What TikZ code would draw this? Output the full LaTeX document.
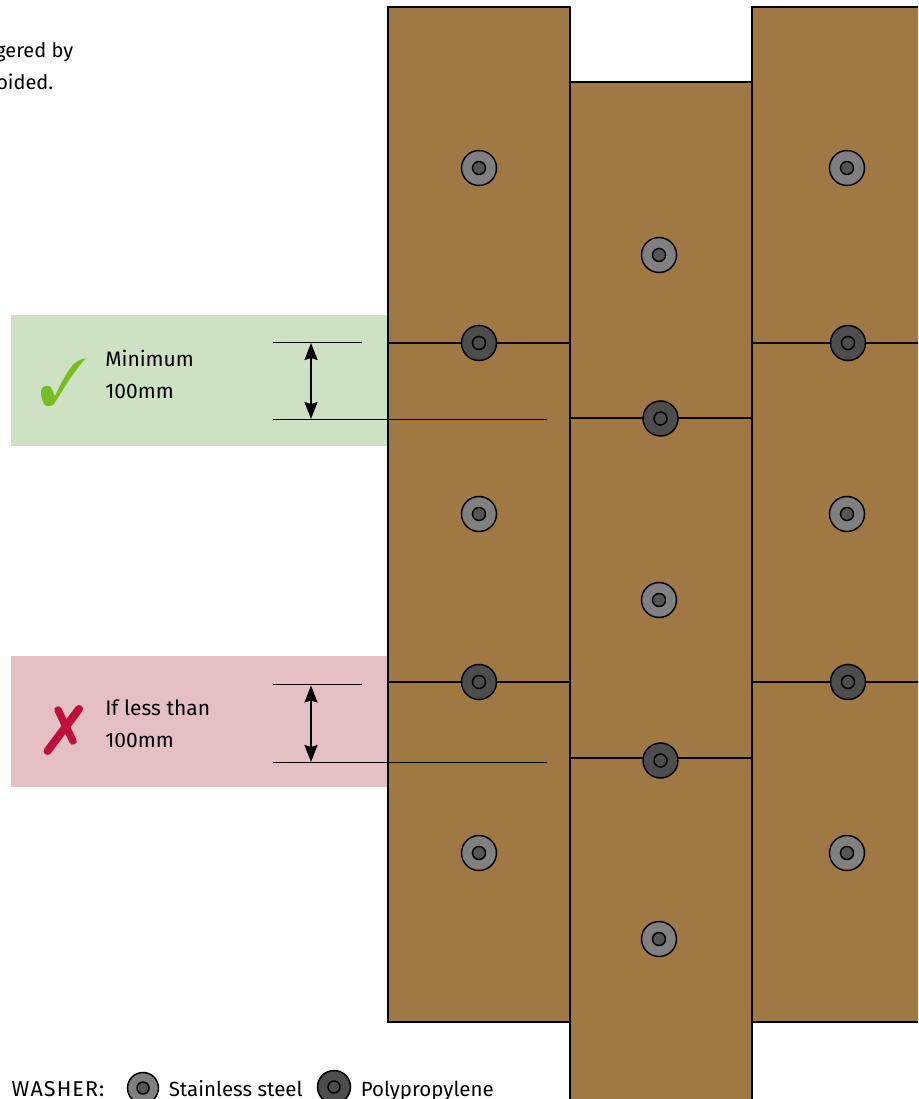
\documentclass[tikz,border=0pt]{standalone}
\usepackage{fontspec}
\setmainfont{Fira Sans}
\usetikzlibrary{arrows.meta}
\definecolor{plankbrown}{HTML}{A07843}
\definecolor{okband}{HTML}{CCE2C3}
\definecolor{badband}{HTML}{E4C0C4}
\definecolor{okmark}{HTML}{78BE20}
\definecolor{badmark}{HTML}{C00D3A}
\definecolor{steelgrey}{HTML}{808080}
\definecolor{pingrey}{HTML}{555555}
\definecolor{polygrey}{HTML}{4D4D4D}

\begin{document}
\begin{tikzpicture}[x=1pt, y=-1pt, line width=1.5pt,
        plank/.style={draw, fill=plankbrown, anchor=north west, inner sep=0pt, outer sep=0pt},
        band/.style={anchor=north west, inner sep=0pt, outer sep=0pt, minimum width=377pt, minimum height=131pt},
        washer/.style={draw, circle, inner sep=0pt, outer sep=0pt, minimum size=35pt},
        steel/.style={washer, fill=steelgrey},
        poly/.style={washer, fill=polygrey},
        steelpin/.style={washer, fill=pingrey, minimum size=13pt},
        polypin/.style={washer, fill=polygrey, minimum size=13pt},
        lap/.style={line width=1.7pt},
        dimline/.style={line width=1.1pt},
        gap/.style={{Stealth[length=17pt,width=13pt,inset=2pt]}-{Stealth[length=17pt,width=13pt,inset=2pt]}, line width=2pt},
        txt/.style={inner sep=0pt, anchor=west, align=left, font=\fontsize{21}{32}\selectfont},
        legend/.style={inner sep=0pt, anchor=base west, font=\fontsize{20.5}{24}\selectfont},
        cuttxt/.style={inner sep=0pt, anchor=base east, font=\fontsize{20}{24}\selectfont}]
        \clip (0,0) rectangle (918,1099);

        % green and red bands
        \node[band, fill=okband] (okbox) at (11,315) {};
        \node[band, fill=badband] (badbox) at (11,656) {};

        % planks
        \node[plank, minimum width=182pt, minimum height=1015pt] (left) at (388,7) {};
        \node[plank, minimum width=182pt, minimum height=1040pt] (mid) at (570,82) {};
        \node[plank, minimum width=182pt, minimum height=1015pt] (right) at (752,7) {};

        % laps
        \coordinate (la) at (388,343);
        \coordinate (lb) at (570,343);
        \coordinate (lc) at (388,682);
        \coordinate (ld) at (570,682);
        \coordinate (ma) at (570,418);
        \coordinate (mb) at (752,418);
        \coordinate (mc) at (570,758);
        \coordinate (md) at (752,758);
        \coordinate (ra) at (752,343);
        \coordinate (rb) at (930,343);
        \coordinate (rc) at (752,682);
        \coordinate (rd) at (930,682);
        \path[lap] (la) edge (lb)
              (lc) edge (ld)
              (ma) edge (mb)
              (mc) edge (md)
              (ra) edge (rb)
              (rc) edge (rd);

        % dimension lines
        \coordinate (oka) at (273,342.3);
        \coordinate (okb) at (361.5,342.3);
        \coordinate (okc) at (273,419.3);
        \coordinate (okd) at (547,419.3);
        \coordinate (bada) at (273,684.8);
        \coordinate (badb) at (361.5,684.8);
        \coordinate (badc) at (273,762.4);
        \coordinate (badd) at (547,762.4);
        \coordinate (oktop) at (311,343);
        \coordinate (okbot) at (311,419);
        \coordinate (badtop) at (311,685.5);
        \coordinate (badbot) at (311,762);
        \path[dimline] (oka) edge (okb)
              (okc) edge (okd)
              (bada) edge (badb)
              (badc) edge (badd);
        \draw[gap] (oktop) -- (okbot);
        \draw[gap] (badtop) -- (badbot);

        % washers
        \foreach \name/\x/\y in {s1/479/168, s2/479/514, s3/479/853,
                s4/659/255, s5/659/600, s6/659/939,
                s7/847/168, s8/847/514, s9/847/853} {
            \node[steel] (\name) at (\x,\y) {};
            \node[steelpin] (\name p) at (\name) {};
        }
        \foreach \name/\x/\y in {p1/479/343, p2/479/682, p3/660.5/418.5, p4/660.5/760.5,
                p5/848/343, p6/848/682} {
            \node[poly] (\name) at (\x,\y) {};
            \node[polypin] (\name p) at (\name) {};
        }
        \node[steel, minimum size=31pt] (s10) at (143,1088) {};
        \node[steelpin, minimum size=12pt] (s10p) at (s10) {};
        \node[poly, minimum size=33pt] (p7) at (334,1087) {};
        \node[polypin, minimum size=12pt] (p7p) at (p7) {};

        % marks
        \fill[okmark] (41,391) .. controls (41,387) and (46,385) .. (49,386)
              .. controls (52,387) and (53,393) .. (55,396)
              .. controls (60,386) and (64,376) .. (72,366)
              .. controls (76,361) and (81,359) .. (86,358.5)
              .. controls (76,368) and (64,388) .. (54,404)
              .. controls (51,407) and (46,407) .. (44,404)
              .. controls (42,400) and (41,396) .. (41,391) -- cycle;
        \draw[badmark, line width=8pt, line cap=round] (79,709) -- (47.5,751);
        \draw[badmark, line width=7.5pt, line cap=round] (58,710) -- (73,741);

        % texts
        \node[cuttxt] (clipa) at (74,57.5) {gered by};
        \node[cuttxt] (clipb) at (54,90) {oided.};
        \node[txt] (oktext) at (104.5,374) {Minimum\\100mm};
        \node[txt] (badtext) at (104.5,724) {If less than\\100mm};
        \node[legend, font=\fontsize{21.5}{24}\selectfont\addfontfeature{LetterSpace=5}] (washerlabel) at (11,1096) {WASHER:};
        \node[legend] (steellabel) at (168,1096) {Stainless steel};
        \node[legend] (polylabel) at (360,1096) {Polypropylene};
    \end{tikzpicture}
\end{document}
